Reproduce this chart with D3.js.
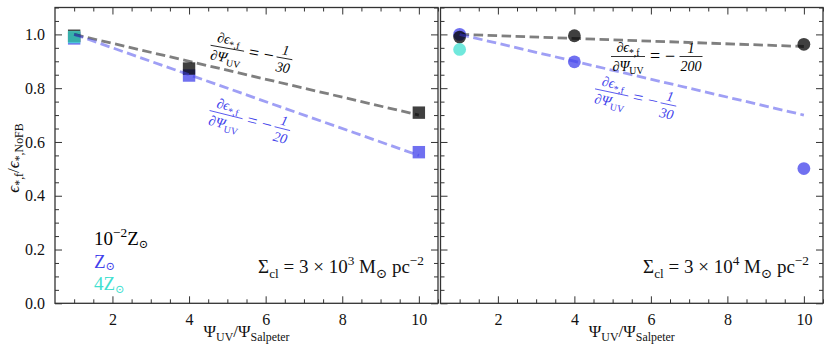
<!DOCTYPE html>
<html><head><meta charset="utf-8">
<script src="https://cdn.jsdelivr.net/npm/d3@7"></script>
<style>
body{margin:0;background:#fff}
svg{display:block}
text{font-family:"Liberation Serif","DejaVu Serif",serif}
</style></head>
<body><svg id="c" width="830" height="353"></svg>
<script>
// ---- data ----
const psiUV = [1, 4, 10];
const psiCyan = [1];
// Sigma_cl = 3e3 (squares)
const low3e3 = [0.995, 0.873, 0.709];
const sol3e3 = [0.985, 0.847, 0.562];
const high3e3 = [0.99];
// Sigma_cl = 3e4 (circles)
const low3e4 = [0.99, 0.995, 0.963];
const sol3e4 = [1.0, 0.898, 0.501];
const high3e4 = [0.944];
// fit lines (endpoints)
const fitX = [1, 10];
const fitLow3e3 = [1.0, 0.7];
const fitSol3e3 = [1.0, 0.55];
const fitLow3e4 = [1.0, 0.955];
const fitSol3e4 = [1.0, 0.7];
const slopeLabels3e3 = ["30", "20"];
const slopeLabels3e4 = ["200", "30"];
const xTicks = [2, 4, 6, 8, 10];
const yTicks = [0.0, 0.2, 0.4, 0.6, 0.8, 1.0];

const cBlack = "#000000", cBlue = "#4040eb", cCyan = "#40e0d0";
const svg = d3.select("#c");
const yTop = 7.5, yBot = 303.3;
const y = d3.scaleLinear().domain([0, 1.1]).range([yBot, yTop]);

function addRich(t, parts, fs) {
  let cur = 0;
  parts.forEach(([s, k]) => {
    let target = 0, size = fs;
    if (k.startsWith("sub")) { target = fs * 0.25; size = fs * 0.7; }
    if (k.startsWith("sml")) { target = fs * 0.15; size = fs * 0.6; }
    if (k.startsWith("sup")) { target = -fs * 0.4; size = fs * 0.7; }
    t.append("tspan").attr("dy", target - cur).attr("font-size", size)
      .attr("font-style", k.endsWith("i") ? "italic" : "normal").text(s);
    cur = target;
  });
}

function deriv(g, cx, cy, ang, color, den) {
  const a = g.append("g").attr("transform", `translate(${cx},${cy}) rotate(${ang})`).attr("fill", color);
  const fs = 14;
  const n = a.append("text").attr("x", -25).attr("y", -10).attr("text-anchor", "middle").attr("font-size", fs);
  addRich(n, [["∂ϵ", "i"], ["*,f", "sub"]], fs);
  a.append("line").attr("x1", -42).attr("x2", -8).attr("y1", -5.5).attr("y2", -5.5).attr("stroke", color).attr("stroke-width", 0.8);
  const d = a.append("text").attr("x", -25).attr("y", 8.5).attr("text-anchor", "middle").attr("font-size", fs);
  addRich(d, [["∂Ψ", "i"], ["UV", "sub"]], fs);
  a.append("text").attr("x", 2).attr("y", 0).attr("text-anchor", "middle").attr("font-size", 18).text("=");
  a.append("text").attr("x", 17).attr("y", 0).attr("text-anchor", "middle").attr("font-size", 18).text("−");
  const fx = den.length > 2 ? 38 : 33;
  const hw = den.length > 2 ? 11.5 : 8;
  a.append("text").attr("x", fx).attr("y", -9).attr("text-anchor", "middle").attr("font-size", fs).attr("font-style", "italic").text("1");
  a.append("line").attr("x1", fx - hw).attr("x2", fx + hw).attr("y1", -5.5).attr("y2", -5.5).attr("stroke", color).attr("stroke-width", 0.8);
  a.append("text").attr("x", fx).attr("y", 8.5).attr("text-anchor", "middle").attr("font-size", fs).attr("font-style", "italic").text(den);
}

function panel(x0, x1, showY, shape, low, sol, high, fLow, fSol, dens, sigExp, anns) {
  const x = d3.scaleLinear().domain([0.5, 10.5]).range([x0, x1]);
  const g = svg.append("g");
  const minorX = d3.range(1, 10.51, 0.5).filter(v => v % 2 !== 0);
  const minorY = d3.range(0, 1.101, 0.05).filter(v => Math.abs(v * 5 - Math.round(v * 5)) > 1e-6);
  const axes = [
    [d3.axisBottom(x).tickValues(xTicks).tickSize(-7).tickPadding(10).tickFormat(d3.format("d")), `translate(0,${yBot})`],
    [d3.axisBottom(x).tickValues(minorX).tickSize(-4).tickFormat(""), `translate(0,${yBot})`],
    [d3.axisTop(x).tickValues(xTicks).tickSize(-7).tickFormat(""), `translate(0,${yTop})`],
    [d3.axisTop(x).tickValues(minorX).tickSize(-4).tickFormat(""), `translate(0,${yTop})`],
    [d3.axisLeft(y).tickValues(yTicks).tickSize(-7).tickPadding(10).tickFormat(showY ? d3.format(".1f") : ""), `translate(${x0},0)`],
    [d3.axisLeft(y).tickValues(minorY).tickSize(-4).tickFormat(""), `translate(${x0},0)`],
    [d3.axisRight(y).tickValues(yTicks).tickSize(-7).tickFormat(""), `translate(${x1},0)`],
    [d3.axisRight(y).tickValues(minorY).tickSize(-4).tickFormat(""), `translate(${x1},0)`]
  ];
  axes.forEach(([ax, tr]) => {
    const a = g.append("g").attr("transform", tr).call(ax)
      .attr("font-family", "Liberation Serif, serif").attr("font-size", 16);
    a.select(".domain").remove();
    a.selectAll("line").attr("stroke", "#333").attr("stroke-width", 1);
    a.selectAll("text").attr("font-size", 16).attr("fill", "#111");
  });
  g.append("rect").attr("x", x0).attr("y", yTop).attr("width", x1 - x0).attr("height", yBot - yTop)
    .attr("fill", "none").attr("stroke", "#333").attr("stroke-width", 1.3);

  const sets = [[sol, psiUV, cBlue], [low, psiUV, cBlack], [high, psiCyan, cCyan]];
  sets.forEach(([vals, xs, col]) => {
    vals.forEach((v, i) => {
      if (shape === "square") {
        g.append("rect").attr("x", x(xs[i]) - 6.2).attr("y", y(v) - 6.2).attr("width", 12.4).attr("height", 12.4)
          .attr("fill", col).attr("fill-opacity", 0.75);
      } else {
        g.append("circle").attr("cx", x(xs[i])).attr("cy", y(v)).attr("r", 6.4)
          .attr("fill", col).attr("fill-opacity", 0.75);
      }
    });
  });
  const line = d3.line().x((d, i) => x(fitX[i])).y(d => y(d));
  [[fLow, cBlack], [fSol, cBlue]].forEach(([vals, col]) => {
    g.append("path").attr("d", line(vals)).attr("fill", "none").attr("stroke", col)
      .attr("stroke-opacity", 0.5).attr("stroke-width", 2.8).attr("stroke-dasharray", "9.5,4.5");
  });
  deriv(g, anns[0][0], anns[0][1], anns[0][2], cBlack, dens[0]);
  deriv(g, anns[1][0], anns[1][1], anns[1][2], cBlue, dens[1]);

  // Sigma label
  const st = g.append("text").attr("x", x1 - 14).attr("y", 273).attr("text-anchor", "end").attr("font-size", 19).attr("fill", "#111");
  addRich(st, [["Σ", "n"], ["cl", "sub"], [" = 3 × 10", "n"], [sigExp, "sup"], [" M", "n"], ["⊙", "sub"], [" pc", "n"], ["−2", "sup"]], 19);

  // x label
  const xl = g.append("text").attr("x", (x0 + x1) / 2).attr("y", 337).attr("text-anchor", "middle").attr("font-size", 17).attr("fill", "#111");
  addRich(xl, [["Ψ", "n"], ["UV", "sub"], ["/Ψ", "n"], ["Salpeter", "sub"]], 17);
  return x;
}

panel(55, 438, true, "square", low3e3, sol3e3, high3e3, fitLow3e3, fitSol3e3, slopeLabels3e3, "3",
  [[251, 58, 10], [249, 126, 14]]);
panel(440.5, 823, false, "circle", low3e4, sol3e4, high3e4, fitLow3e4, fitSol3e4, slopeLabels3e4, "4",
  [[653, 62, 0], [635, 103, 12]]);

// legend
const legend = [["10", "−2", "Z", cBlack], ["", "", "Z", cBlue], ["4", "", "Z", cCyan]];
legend.forEach(([pre, sup, z, col], i) => {
  const t = svg.append("text").attr("x", 94).attr("y", 245 + i * 22.5).attr("font-size", 19).attr("fill", col);
  const parts = [];
  if (pre) parts.push([pre, "n"]);
  if (sup) parts.push([sup, "sup"]);
  parts.push([z, "n"]); parts.push(["⊙", "sml"]);
  addRich(t, parts, 19);
});

// y label
const yl = svg.append("text").attr("transform", "translate(19,158) rotate(-90)").attr("text-anchor", "middle").attr("font-size", 17).attr("fill", "#111");
addRich(yl, [["ϵ", "i"], ["*,f", "sub"], ["/", "n"], ["ϵ", "i"], ["*,NoFB", "sub"]], 17);
</script></body></html>
